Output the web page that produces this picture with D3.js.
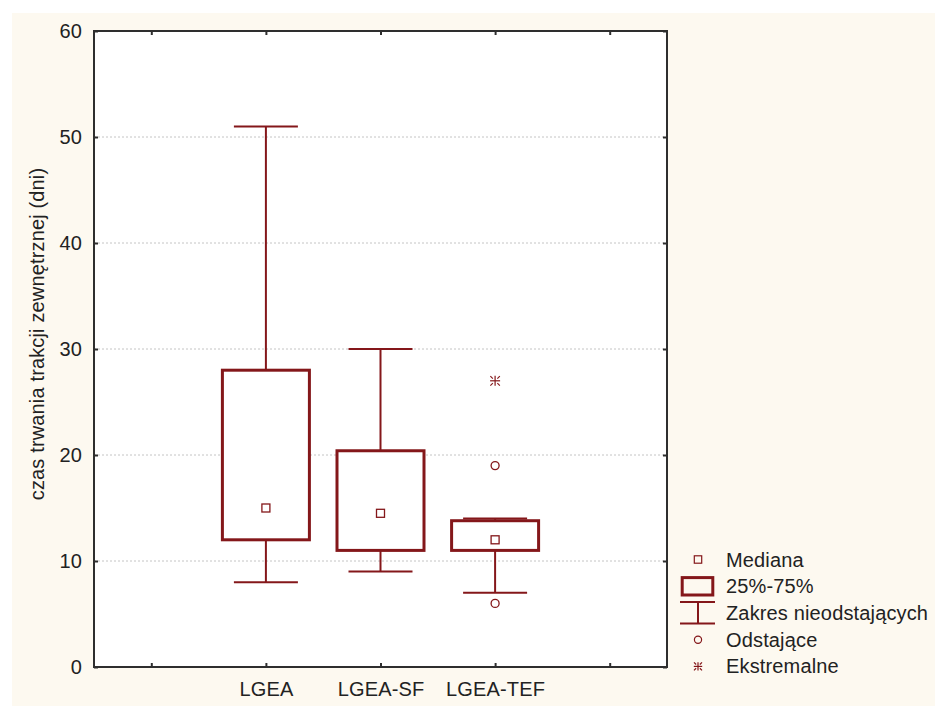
<!DOCTYPE html>
<html>
<head>
<meta charset="utf-8">
<script src="https://cdn.jsdelivr.net/npm/d3@7"></script>
<style>
  html, body { margin: 0; padding: 0; background: #ffffff; }
  svg text { font-family: "Liberation Sans", Arial, sans-serif; fill: #222; }
</style>
</head>
<body>
<svg id="chart" width="935" height="706"></svg>
<script>
// Box plot data: duration of external traction (days) per method
const categories   = ["LGEA", "LGEA-SF", "LGEA-TEF"];
const medians      = [15, 14.5, 12];
const q1Values     = [12, 11, 11];
const q3Values     = [28, 20.4, 13.8];
const whiskerLow   = [8, 9, 7];
const whiskerHigh  = [51, 30, 14];
const outliers     = [[], [], [19, 6]];
const extremes     = [[], [], [27]];
const yTicks       = [0, 10, 20, 30, 40, 50, 60];
const yTitle       = "czas trwania trakcji zewnętrznej (dni)";
const legendLabels = ["Mediana", "25%-75%", "Zakres nieodstających", "Odstające", "Ekstremalne"];

const RED = "#84171a";
const AXIS = "#2e2e2e";
const FONT_SIZE = "20px";
const SPACING = "0.15px";
const svg = d3.select("#chart");

// Cream page panel
svg.append("rect").attr("x", 12).attr("y", 13).attr("width", 935 - 12).attr("height", 706 - 13)
  .attr("fill", "#fdf9f0");

const plot = { left: 94, right: 667, top: 31, bottom: 667 };

// Two empty slots flank the categories on the x axis
const slots = ["__left", ...categories, "__right"];
const x = d3.scalePoint().domain(slots).range([plot.left, plot.right]).padding(0.5);
const y = d3.scaleLinear().domain([0, 60]).range([plot.bottom, plot.top]);

// Plot background
svg.append("rect").attr("x", plot.left).attr("y", plot.top)
  .attr("width", plot.right - plot.left).attr("height", plot.bottom - plot.top)
  .attr("fill", "#ffffff");

// Dotted horizontal gridlines
svg.append("g").selectAll("line").data(yTicks.filter(t => t > 0 && t < 60)).join("line")
  .attr("x1", plot.left).attr("x2", plot.right)
  .attr("y1", d => y(d)).attr("y2", d => y(d))
  .attr("stroke", "#c4c4c4").attr("stroke-width", 1).attr("stroke-dasharray", "2,2");

// Axes with inward ticks on all four sides
const tickLen = 4;
const leftAxis = d3.axisLeft(y).tickValues(yTicks).tickSize(-tickLen).tickPadding(12);
const rightAxis = d3.axisRight(y).tickValues(yTicks).tickSize(-tickLen).tickFormat("");
const bottomAxis = d3.axisBottom(x).tickSize(-tickLen).tickPadding(15)
  .tickFormat(d => categories.includes(d) ? d : "");
const topAxis = d3.axisTop(x).tickSize(-tickLen).tickFormat("");

function styleAxis(g) {
  g.select(".domain").remove();
  g.selectAll(".tick line").attr("stroke", AXIS).attr("stroke-width", 2);
  g.selectAll(".tick text").attr("fill", "#222").style("font-size", FONT_SIZE)
    .style("letter-spacing", SPACING).style("font-family", "'Liberation Sans', Arial, sans-serif");
}
svg.append("g").attr("transform", `translate(${plot.left},0)`).call(leftAxis).call(styleAxis);
svg.append("g").attr("transform", `translate(${plot.right},0)`).call(rightAxis).call(styleAxis);
svg.append("g").attr("transform", `translate(0,${plot.bottom})`).call(bottomAxis).call(styleAxis);
svg.append("g").attr("transform", `translate(0,${plot.top})`).call(topAxis).call(styleAxis);

// Frame
svg.append("rect").attr("x", plot.left).attr("y", plot.top)
  .attr("width", plot.right - plot.left).attr("height", plot.bottom - plot.top)
  .attr("fill", "none").attr("stroke", AXIS).attr("stroke-width", 2);

// Y-axis title
svg.append("text")
  .attr("transform", `translate(44,${(plot.top + plot.bottom) / 2 - 15}) rotate(-90)`)
  .attr("text-anchor", "middle")
  .style("font-size", FONT_SIZE).style("letter-spacing", SPACING)
  .text(yTitle);

// Marker helpers
function asterisk(g, cx, cy, r) {
  const p = g.append("g").attr("stroke", RED).attr("stroke-width", 1.2);
  p.append("line").attr("x1", cx - r).attr("x2", cx + r).attr("y1", cy).attr("y2", cy);
  p.append("line").attr("x1", cx).attr("x2", cx).attr("y1", cy - r).attr("y2", cy + r);
  const a = r * 0.45, b = r * 0.95;
  [[1, 1], [1, -1], [-1, 1], [-1, -1]].forEach(([sx, sy]) => {
    p.append("line").attr("x1", cx + sx * a).attr("y1", cy + sy * a)
      .attr("x2", cx + sx * b).attr("y2", cy + sy * b);
  });
}

// Boxes
const boxW = 87, capW = 64;
const boxes = svg.append("g");
categories.forEach((c, i) => {
  const cx = x(c);
  const g = boxes.append("g");
  // whiskers
  g.append("line").attr("x1", cx).attr("x2", cx).attr("y1", y(q3Values[i])).attr("y2", y(whiskerHigh[i]))
    .attr("stroke", RED).attr("stroke-width", 2);
  g.append("line").attr("x1", cx).attr("x2", cx).attr("y1", y(q1Values[i])).attr("y2", y(whiskerLow[i]))
    .attr("stroke", RED).attr("stroke-width", 2);
  [whiskerHigh[i], whiskerLow[i]].forEach(v => {
    g.append("line").attr("x1", cx - capW / 2).attr("x2", cx + capW / 2).attr("y1", y(v)).attr("y2", y(v))
      .attr("stroke", RED).attr("stroke-width", 2);
  });
  // box
  g.append("rect").attr("x", cx - boxW / 2).attr("y", y(q3Values[i]))
    .attr("width", boxW).attr("height", y(q1Values[i]) - y(q3Values[i]))
    .attr("fill", "#ffffff").attr("stroke", RED).attr("stroke-width", 3);
  // median
  g.append("rect").attr("x", cx - 4).attr("y", y(medians[i]) - 4).attr("width", 8).attr("height", 8)
    .attr("fill", "#ffffff").attr("stroke", RED).attr("stroke-width", 1.3);
  // outliers
  outliers[i].forEach(v => {
    g.append("circle").attr("cx", cx).attr("cy", y(v)).attr("r", 4)
      .attr("fill", "#ffffff").attr("stroke", RED).attr("stroke-width", 1.3);
  });
  // extremes
  extremes[i].forEach(v => asterisk(g, cx, y(v), 5));
});

// Legend
const legX = 698, textX = 726, rowY = [559.5, 586.3, 613, 639.7, 666.4];
const leg = svg.append("g");
leg.append("rect").attr("x", legX - 3.7).attr("y", rowY[0] - 3.7).attr("width", 7.4).attr("height", 7.4)
  .attr("fill", "none").attr("stroke", RED).attr("stroke-width", 1.2);
leg.append("rect").attr("x", 682.2).attr("y", rowY[1] - 8.7).attr("width", 30.6).attr("height", 17.4)
  .attr("fill", "none").attr("stroke", RED).attr("stroke-width", 3);
leg.append("line").attr("x1", 680).attr("x2", 715).attr("y1", rowY[2] - 11).attr("y2", rowY[2] - 11)
  .attr("stroke", RED).attr("stroke-width", 2);
leg.append("line").attr("x1", 680).attr("x2", 715).attr("y1", rowY[2] + 10.5).attr("y2", rowY[2] + 10.5)
  .attr("stroke", RED).attr("stroke-width", 2);
leg.append("line").attr("x1", legX).attr("x2", legX).attr("y1", rowY[2] - 11).attr("y2", rowY[2] + 10.5)
  .attr("stroke", RED).attr("stroke-width", 2);
leg.append("circle").attr("cx", legX).attr("cy", rowY[3]).attr("r", 3.6)
  .attr("fill", "none").attr("stroke", RED).attr("stroke-width", 1.2);
asterisk(leg, legX, rowY[4], 4.2);
leg.selectAll("text.lbl").data(legendLabels).join("text").attr("class", "lbl")
  .attr("x", textX).attr("y", (d, i) => rowY[i] + 7)
  .style("font-size", FONT_SIZE).style("letter-spacing", SPACING)
  .text(d => d);
</script>
</body>
</html>
